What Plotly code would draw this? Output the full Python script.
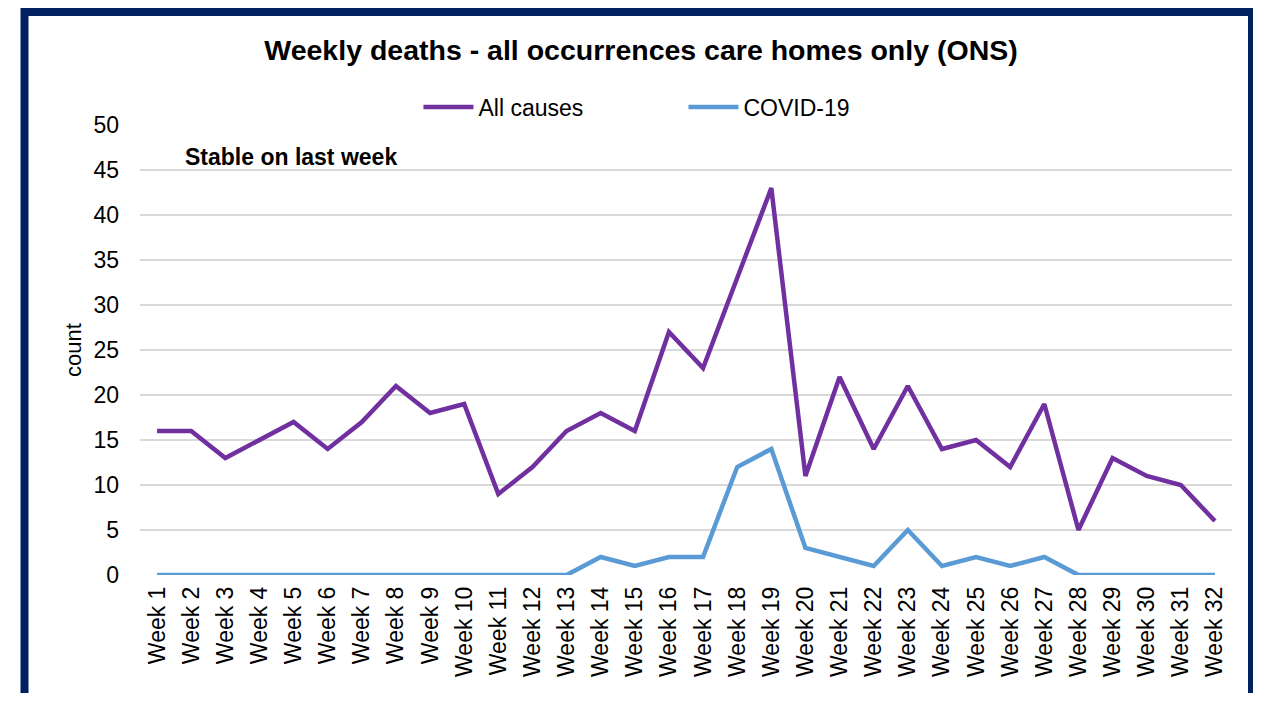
import plotly.graph_objects as go

# Data
weeks = [f"Week {i}" for i in range(1, 33)]
all_causes = [16, 16, 13, 15, 17, 14, 17, 21, 18, 19, 9, 12, 16, 18, 16, 27,
              23, 33, 43, 11, 22, 14, 21, 14, 15, 12, 19, 5, 13, 11, 10, 6]
covid_19 = [0, 0, 0, 0, 0, 0, 0, 0, 0, 0, 0, 0, 0, 2, 1, 2,
            2, 12, 14, 3, 2, 1, 5, 1, 2, 1, 2, 0, 0, 0, 0, 0]

purple = '#7030A0'
blue = '#5B9BD5'
navy = '#002060'
font = 'Liberation Sans, Arial, sans-serif'

# the page body adds an 8px margin, so the figure is made smaller to fit
OFF = 8
W, H = 1261 - OFF, 701 - 2 * OFF
L, R, T = 140 - OFF, 1261 - 1232, 125 - OFF
B = H - (575 - OFF)
pw = W - L - R
ph = H - T - B


def px_x(x):
    # reference pixel -> paper coordinate
    return (x - OFF - L) / pw


def px_y(y):
    return (H - B - (y - OFF)) / ph


fig = go.Figure()
fig.add_trace(go.Scatter(x=weeks, y=all_causes, name='All causes', mode='lines',
                         line=dict(color=purple, width=4.5)))
fig.add_trace(go.Scatter(x=weeks, y=covid_19, name='COVID-19', mode='lines',
                         line=dict(color=blue, width=4.5)))

fig.update_layout(
    width=W, height=H,
    margin=dict(l=L, r=R, t=T, b=B),
    paper_bgcolor='white',
    plot_bgcolor='white',
    font=dict(family=font, size=23, color='black'),
    title=dict(text='<b>Weekly deaths - all occurrences care homes only (ONS)</b>',
               x=(641 - OFF) / W, xanchor='center', y=1 - (50 - OFF) / H, yanchor='middle',
               font=dict(size=28.5, color='black')),
    legend=dict(orientation='h', x=px_x(425) - 0.006, xanchor='left', y=px_y(107), yanchor='middle',
                font=dict(size=23), entrywidth=200, itemwidth=50,
                bgcolor='rgba(0,0,0,0)'),
    xaxis=dict(tickangle=-90, showgrid=False, showline=False, ticks='',
               tickfont=dict(size=23), range=[-0.5, 31.5], ticklabelstandoff=6),
    yaxis=dict(range=[0, 50], dtick=5, showgrid=True, gridcolor='#D9D9D9', gridwidth=1.5,
               zeroline=False, showline=False, ticks='', tickfont=dict(size=23),
               ticklabelstandoff=20),
    annotations=[
        dict(text='<b>Stable on last week</b>', xref='paper', yref='paper',
             x=px_x(183), y=px_y(157), xanchor='left', yanchor='middle',
             showarrow=False, font=dict(size=23, color='black')),
        dict(text='count', xref='paper', yref='paper', textangle=-90,
             x=px_x(73), y=px_y(350), xanchor='center', yanchor='middle',
             showarrow=False, font=dict(size=22, color='black')),
    ],
    shapes=[
        # dark frame around the chart
        dict(type='rect', xref='paper', yref='paper',
             x0=px_x(24.5), x1=px_x(1252), y0=px_y(740), y1=px_y(12),
             line=dict(color=navy, width=8), fillcolor='rgba(0,0,0,0)', layer='above'),
    ],
)

fig.write_html("out.html")
